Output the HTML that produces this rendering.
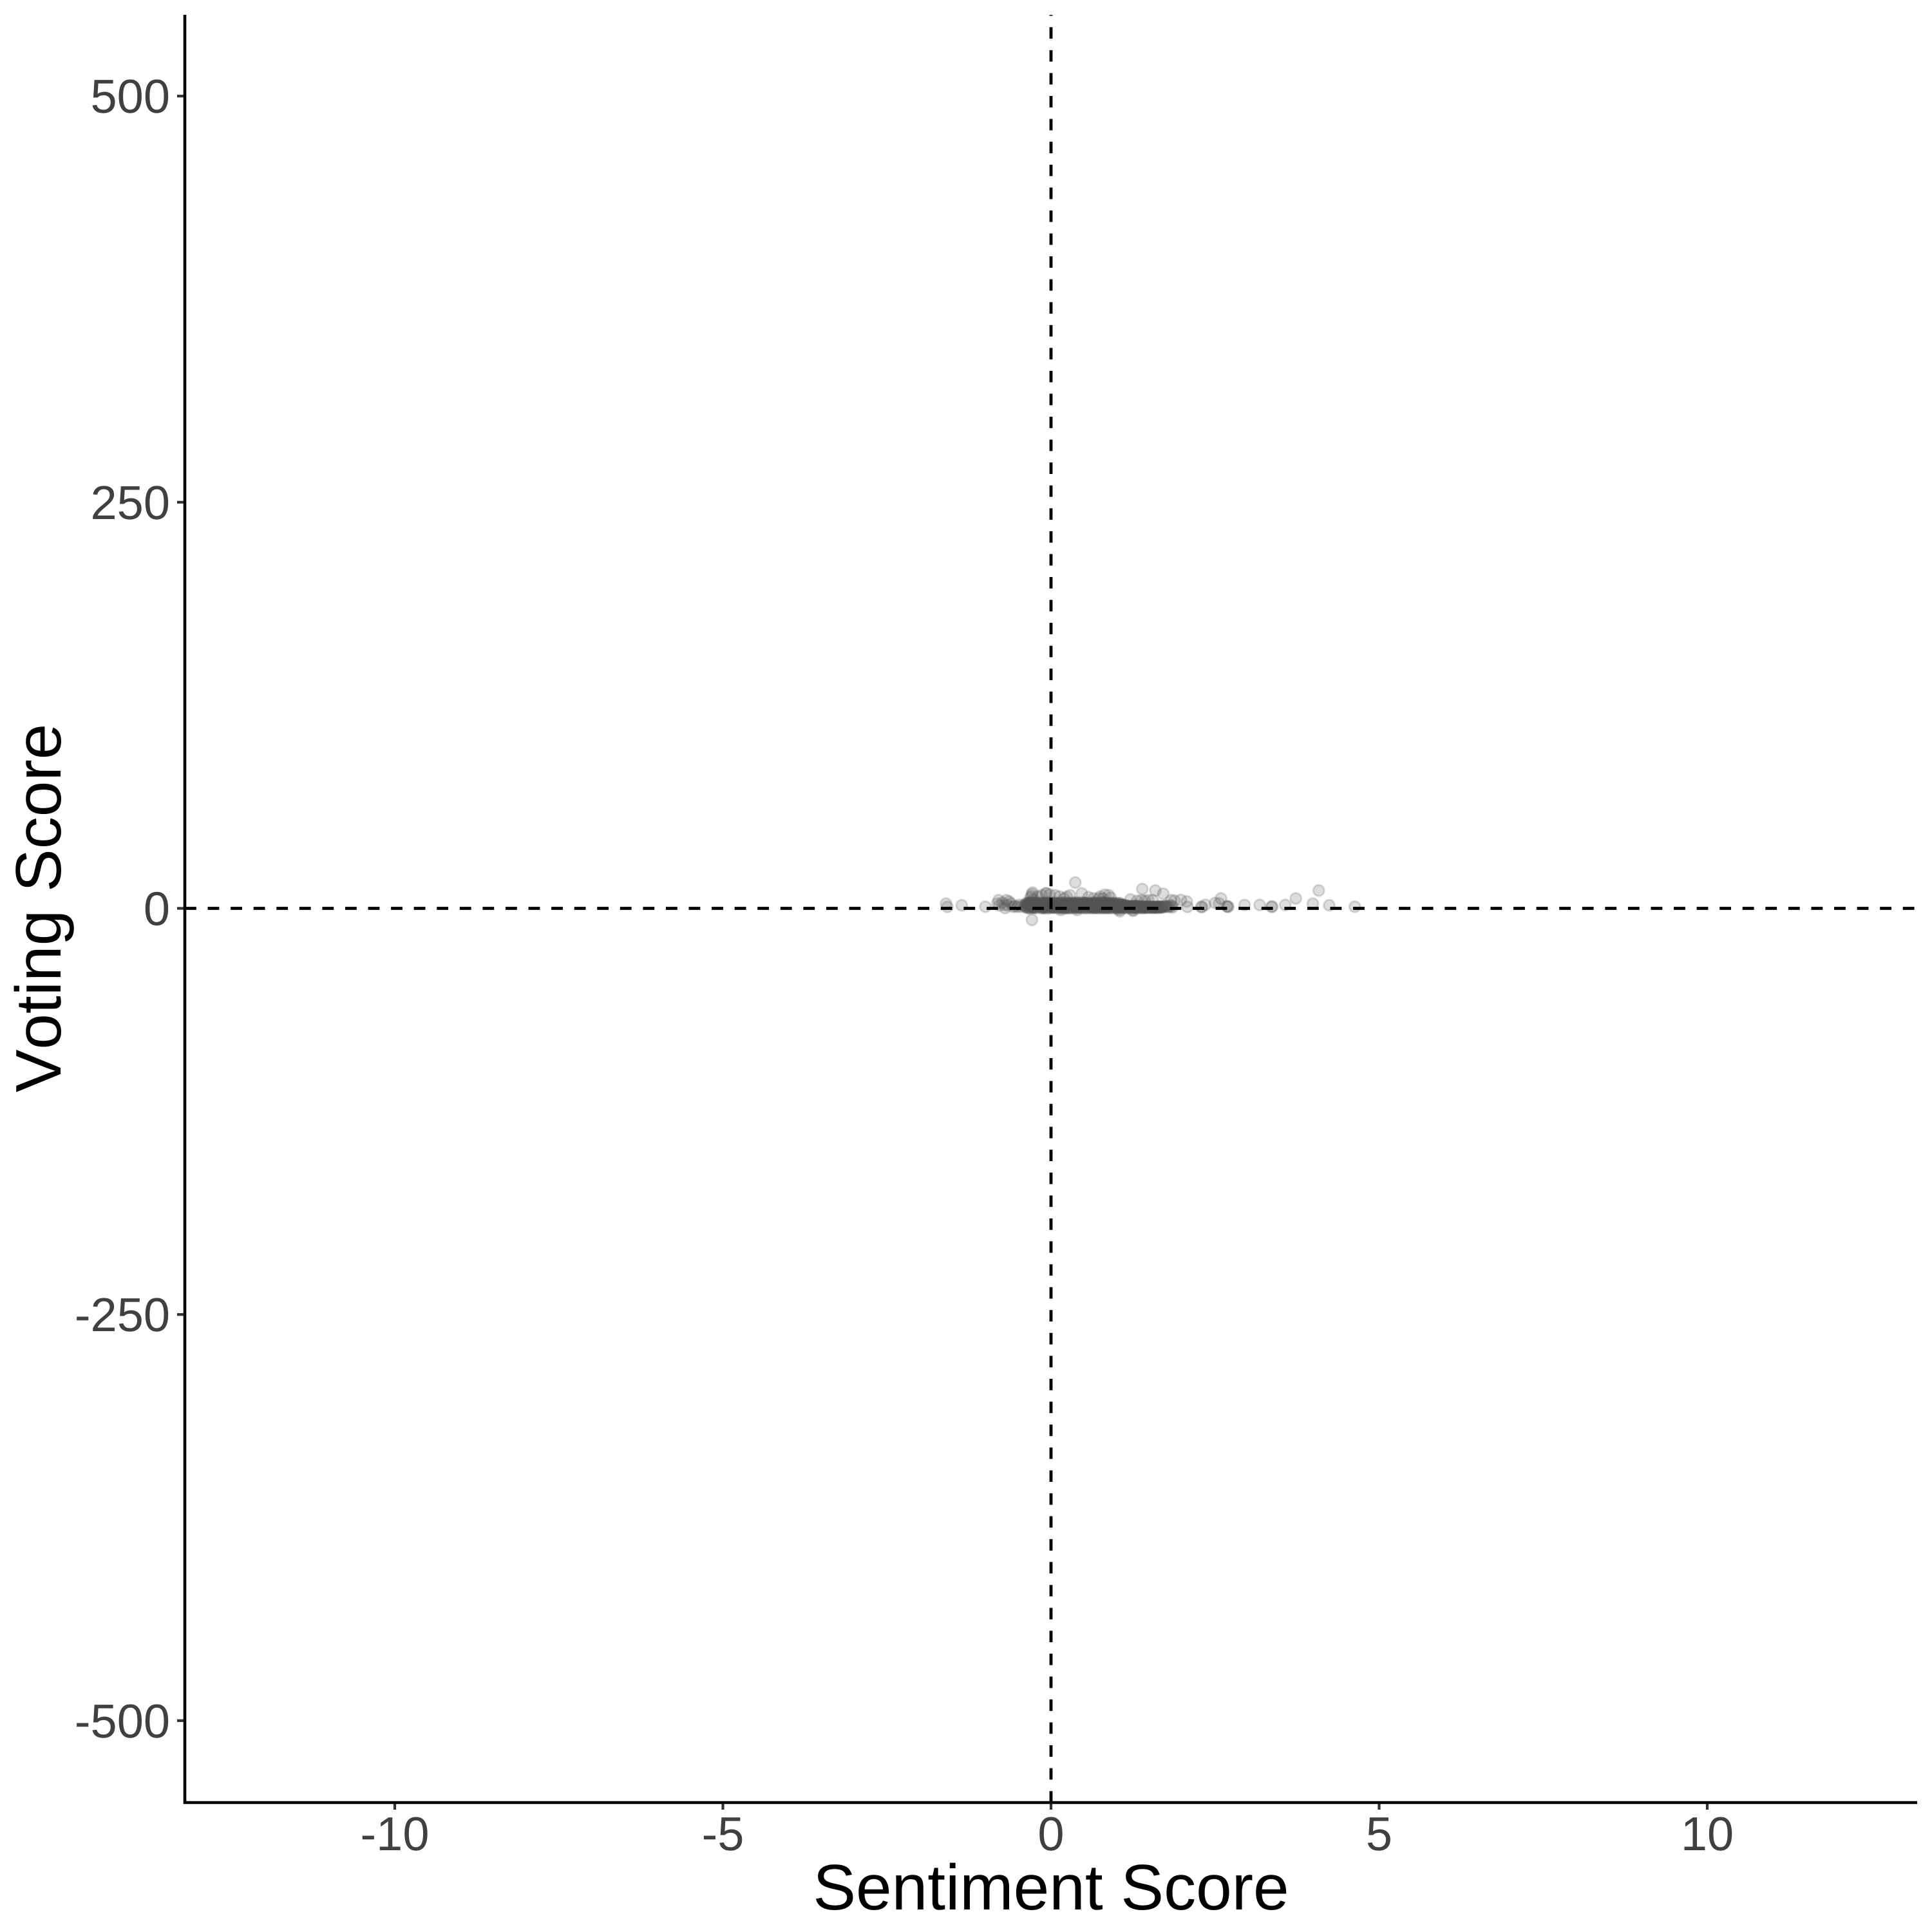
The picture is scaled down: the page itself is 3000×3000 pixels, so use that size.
<!DOCTYPE html>
<html lang="en">
<head>
<meta charset="utf-8">
<title>Sentiment Score vs Voting Score</title>
<style>
html,body{margin:0;padding:0;background:#fff;width:3000px;height:3000px;overflow:hidden}
svg{display:block}
text{font-family:"Liberation Sans",Arial,sans-serif;font-kerning:none;text-rendering:geometricPrecision}
</style>
</head>
<body>
<svg id="chart" xmlns="http://www.w3.org/2000/svg" width="3000" height="3000" viewBox="0 0 3000 3000">
<rect x="0" y="0" width="3000" height="3000" fill="#ffffff"/>
<g id="points"></g>
<g id="refs"></g>
<g id="axes"></g>
<text x="1632" y="2965" text-anchor="middle" font-size="100" fill="#000000">Sentiment Score</text>
<text transform="translate(94,1410) rotate(-90)" x="0" y="0" text-anchor="middle" font-size="100" fill="#000000">Voting Score</text>
</svg>
<script>
const xTicks = [-10, -5, 0, 5, 10];
const yTicks = [-500, -250, 0, 250, 500];
const xTickLabels = ["-10", "-5", "0", "5", "10"];
const yTickLabels = ["-500", "-250", "0", "250", "500"];

const sentimentScores = [
 -1.60,-1.58,-1.36,-1.00,-0.29,0.37,1.39,1.59,1.71,1.88,
 1.98,2.07,2.08,2.29,2.30,2.35,2.50,2.59,2.56,2.69,
 2.68,2.70,2.95,3.18,3.36,3.37,3.57,3.73,3.99,4.08,
 4.24,4.63,
 -0.29,-0.30,-0.28,-0.31,-0.27,-0.08,-0.07,0.06,-0.02,-0.14,
 -0.20,0.13,0.29,0.24,0.20,0.47,0.57,0.65,0.73,0.82,
 0.88,0.75,0.79,0.91,1.21,1.38,1.48,1.55,1.43,1.31,
 1.83,1.04,1.25,0.15,0.40,1.05,1.25,
 -0.80,-0.82,-0.74,-0.68,-0.64,-0.70,-0.58,-0.48,-0.79,-0.71,
 -0.61,-0.55,-0.66,-0.41,-0.46,-0.51,
 -0.38,-0.17,0.05,0.26,0.47,0.68,0.89,1.11,1.32,1.53,
 -0.36,-0.15,0.07,0.28,0.48,0.70,0.90,1.13,1.33,1.55,
 -0.37,-0.13,0.08,0.27,0.50,0.71,0.92,1.12,1.35,1.54,
 -0.34,-0.14,0.10,0.30,0.49,0.73,0.93,1.15,1.34,1.57,
 -0.33,-0.11,0.09,0.32,0.52,0.72,0.95,1.14,1.37,1.56,
 -0.35,-0.12,0.12,0.31,0.53,0.74,0.94,1.17,1.36,1.59,
 -0.31,-0.09,0.11,0.34,0.51,0.76,0.97,1.16,1.39,1.58,
 -0.32,-0.10,0.14,0.33,0.55,0.75,0.96,1.19,1.38,1.61,
 -0.29,-0.07,0.13,0.36,0.54,0.78,0.99,1.18,1.41,1.60,
 -0.30,-0.08,0.16,0.35,0.57,0.77,0.98,1.21,1.40,1.63,
 -0.27,-0.05,0.15,0.38,0.56,0.80,1.01,1.20,1.43,1.62,
 -0.28,-0.06,0.18,0.37,0.59,0.79,1.00,1.23,1.42,1.65,
 -0.25,-0.03,0.17,0.40,0.58,0.82,1.03,1.22,1.45,1.64,
 -0.26,-0.04,0.20,0.39,0.61,0.81,1.02,1.25,1.44,1.67,
 -0.23,-0.01,0.19,0.42,0.60,0.84,1.05,1.24,1.47,1.66,
 -0.24,-0.02,0.22,0.41,0.63,0.83,1.04,1.27,1.46,1.69,
 -0.21,0.01,0.21,0.44,0.62,0.86,1.07,1.26,1.49,1.68,
 -0.22,0.00,0.24,0.43,0.65,0.85,1.06,1.29,1.48,1.71,
 -0.19,0.03,0.23,0.46,0.64,0.88,1.09,1.28,1.51,1.70,
 -0.20,0.02,0.25,0.45,0.66,0.87,1.08,1.30,1.50,1.73,
 -0.39,-0.18,0.04,0.25,0.46,0.67,0.91,1.10,1.31,1.52,
 -0.34,-0.16,0.06,0.29,0.44,0.69,0.88,1.09,1.30,1.75,
 -0.30,-0.13,0.03,0.24,0.51,0.66,0.87,1.08,1.29,1.78,
 -0.26,-0.11,0.02,0.22,0.42,0.64,0.86,1.07,1.28,1.80,
 -0.22,-0.09,0.10,0.23,0.41,0.63,0.85,1.06,1.27,1.82,
 -0.18,-0.05,0.12,0.21,0.43,0.62,0.84,1.03,1.26,1.84,
 -0.15,0.01,0.15,0.19,0.39,0.61,0.83,1.02,1.24,1.85,
 -0.12,0.04,0.17,0.32,0.38,0.60,0.81,1.01,1.23,1.74,
 -0.38,-0.24,-0.09,0.07,0.22,0.36,0.52,0.66,0.83,0.97,
 -0.36,-0.21,-0.06,0.09,0.25,0.39,0.55,0.69,0.85,1.00,
 -0.34,-0.19,-0.04,0.12,0.27,0.42,0.57,0.72,0.87,1.02,
 -0.32,-0.17,-0.02,0.14,0.30,0.44,0.60,0.74,0.90,1.05,
 -0.30,-0.15,0.01,0.16,0.32,0.47,0.62,0.77,0.92,1.08,
 -0.28,-0.12,0.03,0.19,0.34,0.49,0.64,0.79,0.95,1.10,
 -0.26,-0.10,0.05,0.21,0.37,0.51,0.67,0.81,0.98,1.13,
 -0.37,-0.22,-0.07,0.08,0.23,0.38,0.53,0.68,0.84,0.99,
 -0.35,-0.20,-0.05,0.10,0.26,0.41,0.56,0.71,0.86,1.01,
 -0.33,-0.18,-0.03,0.13,0.28,0.43,0.58,0.73,0.89,1.04,
 -0.31,-0.16,0.00,0.15,0.31,0.46,0.61,0.76,0.91,1.07,
 -0.29,-0.13,0.02,0.18,0.33,0.48,0.63,0.78,0.94,1.09,
 -0.37,-0.23,-0.08,0.06,0.21,0.35,0.50,0.65,0.80,0.96,
 -0.33,-0.20,-0.04,0.11,0.24,0.40,0.54,0.70,0.82,1.00,
 -0.30,-0.16,-0.01,0.14,0.29,0.45,0.59,0.75,0.88,1.03,
 -0.27,-0.11,0.04,0.17,0.36,0.52,0.66,0.79,0.93,1.06,
 -0.36,-0.14,0.06,0.27,0.48,0.69,0.90,1.10,1.31,1.50,
 -0.32,-0.10,0.11,0.31,0.53,0.74,0.95,1.15,1.36,1.55,
 -0.28,-0.06,0.16,0.36,0.58,0.79,1.00,1.20,1.40,1.60,
 -0.24,-0.02,0.20,0.41,0.63,0.84,1.04,1.25,1.45,1.64
];

const votingScores = [
 2.9,0.9,1.9,1.0,-7.1,15.9,11.9,11.0,9.0,4.8,
 5.2,4.2,0.9,0.9,0.8,2.2,3.3,6.1,3.0,1.1,
 1.3,1.0,2.1,2.1,1.1,1.0,2.1,6.1,2.9,11.0,
 1.9,1.0,
 8.8,7.5,9.7,6.5,5.4,9.2,9.3,8.1,8.5,8.1,
 7.3,7.3,8.1,7.1,6.1,9.2,6.9,6.1,6.1,8.4,
 8.1,7.3,6.1,6.5,5.5,5.0,5.0,5.0,4.6,4.6,
 5.0,-1.0,-1.0,-1.0,-1.0,-1.8,-1.6,
 5.0,3.0,3.5,5.0,4.2,0.2,1.0,2.2,1.8,2.2,
 3.0,1.4,1.8,1.8,1.0,1.0,
 1.2,2.1,0.6,2.6,1.4,0.4,2.5,1.0,0.7,1.0,
 2.4,0.5,2.6,1.1,2.4,1.7,0.4,1.7,1.1,0.6,
 0.8,2.5,1.5,0.4,2.3,2.6,1.2,0.5,1.3,0.8,
 1.9,1.1,0.7,2.2,0.9,0.5,2.0,1.4,0.5,0.9,
 0.5,2.6,1.8,0.9,2.5,1.3,0.7,1.2,0.9,0.5,
 2.6,0.8,1.2,2.5,0.6,2.1,1.6,0.6,1.2,1.1,
 1.0,1.7,2.4,0.6,1.9,0.9,2.3,1.5,0.6,0.7,
 2.2,0.4,0.9,1.8,2.6,0.7,1.1,0.9,1.0,0.9,
 0.7,2.3,2.0,1.3,0.5,2.4,0.6,1.3,0.7,0.6,
 1.5,1.0,0.5,2.6,1.6,1.2,1.9,0.5,1.1,1.0,
 2.5,0.6,1.4,0.8,2.2,0.5,1.4,1.1,0.5,0.8,
 0.9,2.0,2.5,1.7,0.8,1.9,0.8,0.7,0.9,0.7,
 1.7,1.3,0.7,2.3,1.2,2.6,2.1,1.4,1.2,1.0,
 0.6,2.6,1.6,0.5,2.4,0.8,0.5,0.6,0.6,0.6,
 2.3,0.9,2.2,1.4,1.0,1.6,1.5,1.0,1.0,1.2,
 1.1,1.6,0.4,2.6,1.8,2.2,0.9,1.6,0.8,0.7,
 2.0,0.5,1.0,0.9,0.6,0.6,2.2,0.8,0.5,0.9,
 0.5,2.2,2.6,1.9,2.1,1.5,0.6,1.2,1.2,1.4,
 1.4,1.2,0.8,0.6,1.3,2.5,1.3,0.5,0.7,0.6,
 2.6,0.7,1.8,2.3,0.4,0.8,1.7,1.3,1.0,1.0,
 0.8,2.4,1.1,0.7,2.6,1.9,2.4,1.7,1.3,0.8,
 1.6,1.5,2.6,1.2,0.5,0.5,1.0,0.9,0.9,1.6,
 2.2,0.4,0.6,2.5,1.9,2.3,0.6,2.0,0.6,1.1,
 0.5,2.6,1.3,1.5,0.7,1.0,2.1,0.6,1.5,0.8,
 1.9,0.9,2.3,0.4,2.4,1.4,1.3,1.6,1.1,1.9,
 1.2,2.0,0.6,2.2,1.1,0.6,0.7,1.1,0.7,1.4,
 2.5,1.4,1.5,0.8,2.0,2.1,1.6,0.7,1.4,0.6,
 0.7,1.8,2.4,1.7,0.9,1.7,0.5,1.5,0.8,1.2,
 2.8,2.5,3.0,2.7,2.9,2.6,3.0,2.8,2.5,2.3,
 2.6,2.9,2.7,3.1,2.5,3.0,2.8,2.6,2.9,2.2,
 3.0,2.7,2.5,2.8,3.1,2.6,2.9,3.0,2.7,2.1,
 2.7,3.1,2.9,2.6,2.8,3.0,2.5,2.9,2.8,2.3,
 2.9,2.6,3.1,3.0,2.7,2.8,3.1,2.6,3.0,2.0,
 2.5,2.8,2.6,2.9,3.0,2.5,2.7,3.1,2.6,2.2,
 3.1,3.0,2.8,2.5,2.9,3.1,2.9,2.7,2.8,1.9,
 2.3,2.1,2.4,2.0,2.2,2.4,2.1,2.3,2.0,1.6,
 2.0,2.4,1.9,2.2,2.3,2.0,2.4,2.1,2.2,1.8,
 2.2,1.9,2.3,2.4,2.0,2.2,1.9,2.4,2.1,1.7,
 2.4,2.2,2.0,2.1,2.4,1.9,2.3,2.0,2.3,1.5,
 1.9,2.3,2.2,2.0,2.1,2.3,2.2,1.9,2.4,1.6,
 3.4,3.3,3.5,3.6,3.3,3.4,3.5,3.3,3.6,3.2,
 3.5,3.6,3.4,3.3,3.6,3.5,3.3,3.4,3.5,3.1,
 3.3,3.4,3.6,3.5,3.4,3.6,3.4,3.5,3.3,3.2,
 3.6,3.5,3.3,3.4,3.5,3.3,3.6,3.6,3.4,3.0,
 0.2,0.1,0.3,0.0,0.2,0.3,0.1,0.2,0.3,0.4,
 0.0,0.3,0.1,0.2,0.1,0.0,0.3,0.1,0.2,0.3,
 0.3,0.0,0.2,0.1,0.3,0.2,0.0,0.3,0.1,0.4,
 0.1,0.2,0.0,0.3,0.0,0.1,0.2,0.0,0.3,0.3
];

const svgNS = "http://www.w3.org/2000/svg";

const plotLeft = 287, plotRight = 2977, plotTop = 23, plotBottom = 2799;
const xZero = 1632, xUnit = 101.9;
const yZero = 1410.5, yUnit = 2.5226;

function xScale(v) { return xZero + v * xUnit; }
function yScale(v) { return yZero - v * yUnit; }

function make(tag, attrs, parent) {
  const el = document.createElementNS(svgNS, tag);
  for (const k in attrs) el.setAttribute(k, attrs[k]);
  parent.appendChild(el);
  return el;
}

const pointsGroup = document.getElementById("points");
const refsGroup = document.getElementById("refs");
const axesGroup = document.getElementById("axes");

const pointCount = Math.min(sentimentScores.length, votingScores.length);
for (let i = 0; i < pointCount; i++) {
  const c = make("circle", {
    cx: xScale(sentimentScores[i]),
    cy: yScale(votingScores[i]),
    r: 8.5,
    fill: "#555555",
    "fill-opacity": 0.2,
    stroke: "#555555",
    "stroke-opacity": 0.2,
    "stroke-width": 3
  }, pointsGroup);
  
  
}

const hRef = make("line", {
  x1: plotLeft, x2: plotRight, y1: yScale(0), y2: yScale(0),
  stroke: "#000000", "stroke-width": 4.8, "stroke-dasharray": "17.8 17.77"
}, refsGroup);



const vRef = make("line", {
  x1: xScale(0), x2: xScale(0), y1: plotBottom, y2: plotTop,
  stroke: "#000000", "stroke-width": 4.8, "stroke-dasharray": "17.8 17.77"
}, refsGroup);



xTicks.forEach(function (v, i) {
  const t = make("line", {
    x1: xScale(v), x2: xScale(v), y1: plotBottom, y2: plotBottom + 11,
    stroke: "#333333", "stroke-width": 4.2
  }, axesGroup);
  
  
  const l = make("text", {
    x: xScale(v), y: 2873, "text-anchor": "middle", "font-size": 74, fill: "#404040"
  }, axesGroup);
  
  
  l.textContent = xTickLabels[i];
});

yTicks.forEach(function (v, i) {
  const t = make("line", {
    x1: plotLeft - 12, x2: plotLeft, y1: yScale(v), y2: yScale(v),
    stroke: "#333333", "stroke-width": 4.2
  }, axesGroup);
  
  
  const l = make("text", {
    x: 264, y: yScale(v) + 26, "text-anchor": "end", "font-size": 74, fill: "#404040"
  }, axesGroup);
  
  
  l.textContent = yTickLabels[i];
});

const yAxisLine = make("line", {
  x1: plotLeft, x2: plotLeft, y1: plotTop, y2: plotBottom + 2,
  stroke: "#000000", "stroke-width": 4.6
}, axesGroup);



const xAxisLine = make("line", {
  x1: plotLeft - 2, x2: plotRight, y1: plotBottom, y2: plotBottom,
  stroke: "#000000", "stroke-width": 4.6
}, axesGroup);


</script>
</body>
</html>
